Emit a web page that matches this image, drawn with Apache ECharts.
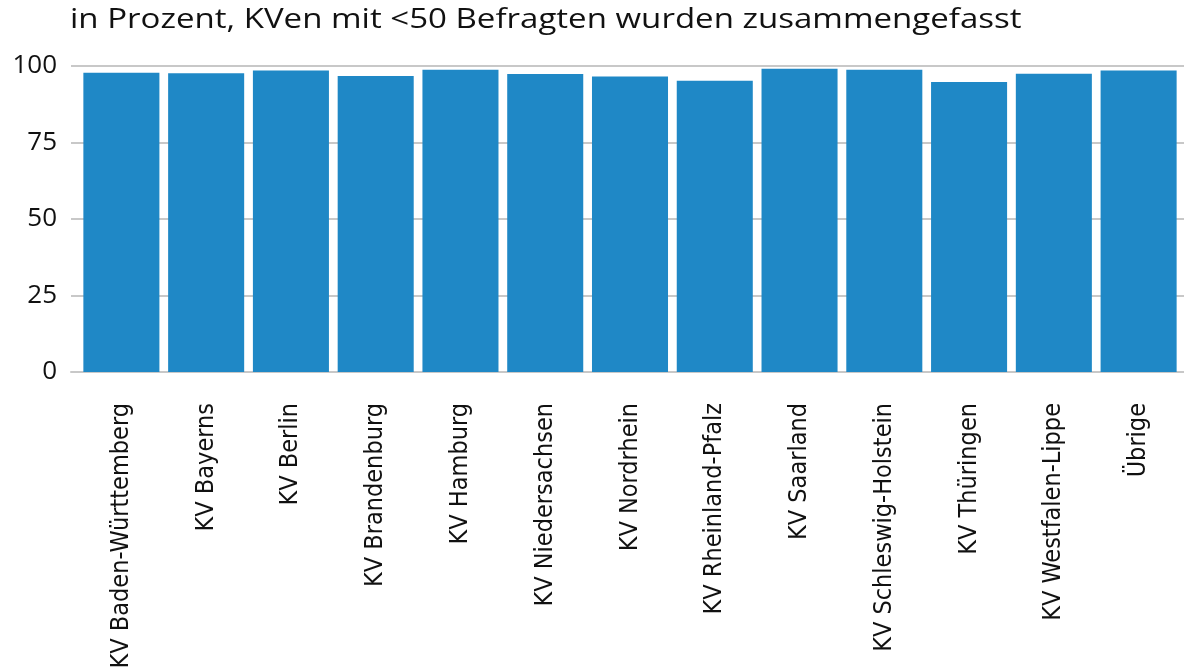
<!DOCTYPE html>
<html>
<head>
<meta charset="utf-8">
<script src="https://cdn.jsdelivr.net/npm/echarts@6/dist/echarts.min.js"></script>
<style>
  html, body { margin: 0; padding: 0; background: #fff; }
  #chart { width: 1184px; height: 671px; }
</style>
</head>
<body>
<div id="chart"></div>
<script>
// Kategorien (KVen)
const categories = [
  'KV Baden-Württemberg', 'KV Bayerns', 'KV Berlin', 'KV Brandenburg',
  'KV Hamburg', 'KV Niedersachsen', 'KV Nordrhein', 'KV Rheinland-Pfalz',
  'KV Saarland', 'KV Schleswig-Holstein', 'KV Thüringen',
  'KV Westfalen-Lippe', 'Übrige'
]
// Werte in Prozent
const values = [97.8, 97.6, 98.5, 96.7, 98.8, 97.4, 96.6, 95.2, 99.1, 98.8, 94.8, 97.5, 98.5]
const yTicks = [0, 25, 50, 75, 100]

const chart = echarts.init(document.getElementById('chart'))

const yMin = yTicks[0]
const yMax = yTicks[yTicks.length - 1]

const option = {
  animation: false,
  // Titel etwas in die Breite gezogen wie im Original
  graphic: [{
    type: 'text',
    x: 70,
    y: 6,
    scaleX: 1.18,
    style: {
      text: 'in Prozent, KVen mit <50 Befragten wurden zusammengefasst',
      font: '28px "Open Sans"',
      fill: '#111'
    }
  }],
  // grid 0: Hilfslinien + y-Beschriftung, grid 1: Balken (etwas eingerückt)
  grid: [
    { left: 71, right: 0, top: 66, bottom: 299, outerBoundsMode: 'none' },
    { left: 79, right: 3, top: 66, bottom: 299, outerBoundsMode: 'none' }
  ],
  xAxis: [
    {
      gridIndex: 0,
      type: 'category',
      data: categories,
      axisTick: { show: false },
      axisLabel: { show: false },
      axisLine: { lineStyle: { color: '#c8c8c8', width: 2 } }
    },
    {
      gridIndex: 1,
      type: 'category',
      data: categories,
      axisTick: { show: false },
      axisLine: { show: false },
      axisLabel: {
        rotate: 90,
        interval: 0,
        margin: 31,
        fontFamily: 'Liberation Sans Narrow, DejaVu Sans Condensed, sans-serif',
        fontSize: 25,
        color: '#111'
      }
    }
  ],
  yAxis: [
    {
      gridIndex: 0,
      type: 'value',
      min: yMin,
      max: yMax,
      interval: 25,
      axisLine: { show: false },
      axisTick: { show: false },
      splitLine: { lineStyle: { color: '#c8c8c8', width: 2 } },
      axisLabel: {
        margin: 14,
        fontFamily: 'Open Sans',
        fontSize: 26,
        color: '#111'
      }
    },
    {
      gridIndex: 1,
      type: 'value',
      min: yMin,
      max: yMax,
      interval: 25,
      show: false
    }
  ],
  series: [{
    type: 'bar',
    xAxisIndex: 1,
    yAxisIndex: 1,
    data: values,
    barCategoryGap: '10.3%',
    itemStyle: { color: '#1f88c6' }
  }]
}

chart.setOption(option)
</script>
</body>
</html>
